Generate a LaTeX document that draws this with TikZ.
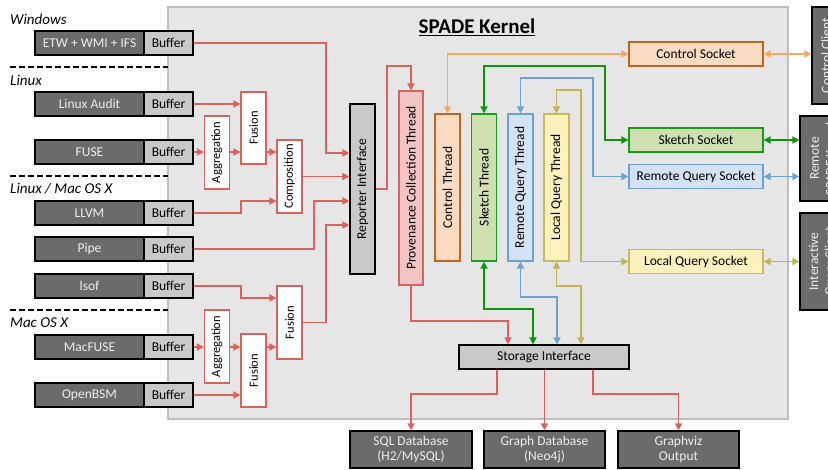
\documentclass[tikz,border=0pt]{standalone}
\usepackage{fontspec}
\setmainfont{Carlito}
\usepackage{graphicx}
\usetikzlibrary{arrows.meta,calc}
\definecolor{redc}{HTML}{D9625B}
\definecolor{redfill}{HTML}{F2C5C4}
\definecolor{orgline}{HTML}{C0651F}
\definecolor{orgfill}{HTML}{FBDCC3}
\definecolor{orgarr}{HTML}{F9A85A}
\definecolor{grnline}{HTML}{1B9B1B}
\definecolor{grnfill}{HTML}{D0DFB0}
\definecolor{grnarr}{HTML}{0E950E}
\definecolor{bluline}{HTML}{6E9FD6}
\definecolor{blufill}{HTML}{D3E2F5}
\definecolor{yelline}{HTML}{C7B95C}
\definecolor{yelfill}{HTML}{FDF1BE}
\definecolor{yelarr}{HTML}{C2B456}
\definecolor{darkbox}{HTML}{6B6B6B}
\definecolor{lighttext}{HTML}{EEEEEE}
\definecolor{bufgray}{HTML}{C9C9C9}
\definecolor{kernfill}{HTML}{E6E6E6}
\definecolor{kernline}{HTML}{BEBEBE}
\tikzset{
  base/.style={draw, line width=1.2pt, inner sep=1pt, font=\fontsize{13.5}{15}\selectfont},
  src/.style={base, fill=darkbox, text=lighttext, minimum width=109pt, minimum height=24pt},
  buf/.style={base, fill=bufgray, minimum width=49pt, minimum height=24pt},
  redbox/.style={base, draw=redc, fill=white, minimum width=25pt, minimum height=73pt, font=\fontsize{12.5}{14}\selectfont},
  thread/.style={base, minimum width=25pt, minimum height=147pt},
  sock/.style={base, minimum width=134pt, minimum height=24pt},
  outbox/.style={base, fill=darkbox, text=lighttext, minimum width=121pt, minimum height=37pt, align=center},
  client/.style={base, fill=darkbox},
  clienttext/.style={rotate=90, align=center, text=lighttext, font=\fontsize{13.5}{16}\selectfont},
  oslabel/.style={anchor=west, inner sep=0pt, font=\fontsize{15}{17}\selectfont\itshape},
  tip/.style={-{Triangle[length=7pt,width=7pt]}},
  rc/.style={draw=redc, line width=1.7pt, tip},
  oc/.style={draw=orgarr, line width=1.7pt, {Triangle[length=7pt,width=7pt]}-{Triangle[length=7pt,width=7pt]}},
  gc/.style={draw=grnarr, line width=1.7pt, {Triangle[length=7pt,width=7pt]}-{Triangle[length=7pt,width=7pt]}},
  bc/.style={draw=bluline, line width=1.7pt, {Triangle[length=7pt,width=7pt]}-{Triangle[length=7pt,width=7pt]}},
  yc/.style={draw=yelarr, line width=1.7pt, {Triangle[length=7pt,width=7pt]}-{Triangle[length=7pt,width=7pt]}},
  sep/.style={line width=1.5pt, dash pattern=on 6pt off 3pt}
}
\begin{document}
\begin{tikzpicture}[x=1pt,y=-1pt]
\useasboundingbox (0,0) rectangle (828,470);
% kernel background
\draw[fill=kernfill, draw=kernline, line width=1.2pt] (168,7) rectangle (788,419);
\node[font=\fontsize{21}{23}\selectfont\bfseries] (title) at (477,27) {\underline{SPADE Kernel}};

% OS labels and separators
\node[oslabel] (lwin) at (10,19) {Windows};
\node[oslabel] (llin) at (10,80) {Linux};
\node[oslabel] (llm) at (10,189) {Linux / Mac OS X};
\node[oslabel] (lmac) at (10,323) {Mac OS X};
\draw[sep] (10,67) -- (168,67);
\draw[sep] (10,176) -- (168,176);
\draw[sep] (10,310) -- (168,310);

% sources
\node[src] (s1) at (89.5,43) {ETW + WMI + IFS};
\node[buf] (b1) at (168.5,43) {Buffer};
\node[src] (s2) at (89.5,104) {Linux Audit};
\node[buf] (b2) at (168.5,104) {Buffer};
\node[src] (s3) at (89.5,152) {FUSE};
\node[buf] (b3) at (168.5,152) {Buffer};
\node[src] (s4) at (89.5,213) {LLVM};
\node[buf] (b4) at (168.5,213) {Buffer};
\node[src] (s5) at (89.5,249) {Pipe};
\node[buf] (b5) at (168.5,249) {Buffer};
\node[src] (s6) at (89.5,286) {lsof};
\node[buf] (b6) at (168.5,286) {Buffer};
\node[src] (s7) at (89.5,347) {MacFUSE};
\node[buf] (b7) at (168.5,347) {Buffer};
\node[src] (s8) at (89.5,395) {OpenBSM};
\node[buf] (b8) at (168.5,395) {Buffer};

% filters
\node[redbox] (agg1) at (217,152.5) {\rotatebox{90}{Aggregation}};
\node[redbox, minimum height=72pt] (fus1) at (253.5,128) {\rotatebox{90}{Fusion}};
\node[redbox] (comp) at (289.5,176.5) {\rotatebox{90}{Composition}};
\node[redbox] (fus2) at (289.5,322.5) {\rotatebox{90}{Fusion}};
\node[redbox] (agg2) at (217,346.5) {\rotatebox{90}{Aggregation}};
\node[redbox] (fus3) at (253.5,370.5) {\rotatebox{90}{Fusion}};

% core
\node[base, fill=bufgray, minimum width=25pt, minimum height=170pt] (rep) at (362.5,189) {\rotatebox{90}{Reporter Interface}};
\node[base, draw=redc, fill=redfill, minimum width=24pt, minimum height=194pt] (prov) at (411,188) {\rotatebox{90}{Provenance Collection Thread}};
\node[thread, draw=orgline, fill=orgfill] (ctrl) at (447.5,187.5) {\rotatebox{90}{Control Thread}};
\node[thread, draw=grnline, fill=grnfill] (sketch) at (484,187.5) {\rotatebox{90}{Sketch Thread}};
\node[thread, draw=bluline, fill=blufill] (remote) at (520.5,187.5) {\rotatebox{90}{Remote Query Thread}};
\node[thread, draw=yelline, fill=yelfill] (local) at (556.5,187.5) {\rotatebox{90}{Local Query Thread}};

\node[sock, draw=orgline, fill=orgfill] (csock) at (696,54) {Control Socket};
\node[sock, draw=grnline, fill=grnfill] (ssock) at (696,140) {Sketch Socket};
\node[sock, draw=bluline, fill=blufill] (rsock) at (696,176.5) {Remote Query Socket};
\node[sock, draw=yelline, fill=yelfill] (lsock) at (696,261.5) {Local Query Socket};

\node[base, fill=bufgray, minimum width=170pt, minimum height=24pt] (storage) at (544,357) {Storage Interface};

% outputs
\node[outbox, minimum width=122pt] (sql) at (411,449.5) {SQL Database\\(H2/MySQL)};
\node[outbox] (graph) at (544.5,449.5) {Graph Database\\(Neo4j)};
\node[outbox] (gviz) at (678.5,449.5) {Graphviz\\Output};

% clients
\node[client, minimum width=28pt, minimum height=97pt] (cclient) at (826,55.5) {};
\node[clienttext] (cclientT) at (cclient.center) {Control Client};
\node[client, minimum width=45pt, minimum height=85pt] (rclient) at (822.5,158.5) {};
\node[clienttext] (rclientT) at (rclient.center) {Remote\\SPADE Kernel};
\node[client, minimum width=45pt, minimum height=97pt] (iclient) at (822.5,261.5) {};
\node[clienttext] (iclientT) at (iclient.center) {Interactive\\Query Client};

% red connectors (collection)
\draw[rc] (b1.east) -- (326,43) -- (326,153) -- (rep.west |- 0,153);
\draw[rc] (b2.east) -- (fus1.west |- b2.east);
\draw[rc] (b3.east) -- (agg1.west |- b3.east);
\draw[rc] (agg1.east |- b3.east) -- (fus1.west |- b3.east);
\draw[rc] (fus1.east |- b3.east) -- (comp.west |- b3.east);
\draw[rc] (b4.east) -- (241,213) -- (241,201) -- (comp.west |- 0,201);
\draw[rc] (comp.east) -- (rep.west |- comp.east);
\draw[rc] (b5.east) -- (314,249) -- (314,201) -- (rep.west |- 0,201);
\draw[rc] (b6.east) -- (241,286) -- (241,298) -- (fus2.west |- 0,298);
\draw[rc] (fus2.east) -- (326,322.5) -- (326,225) -- (rep.west |- 0,225);
\draw[rc] (b7.east) -- (agg2.west |- b7.east);
\draw[rc] (agg2.east |- b7.east) -- (fus3.west |- b7.east);
\draw[rc] (fus3.east |- b7.east) -- (fus2.west |- b7.east);
\draw[rc] (b8.east) -- (fus3.west |- b8.east);
\draw[rc] (rep.east) -- (387,189) -- (387,66) -- (411,66) -- (prov.north);

% thread to socket
\draw[oc] (ctrl.north) |- (csock.west);
\draw[gc] (sketch.north) |- (605,66) |- (ssock.west);
\draw[bc] (remote.north) |- (593,78) |- (rsock.west);
\draw[yc] (local.north) |- (581,90) |- (lsock.west);

% socket to client
\draw[oc] (csock.east) -- (cclient.west |- csock.east);
\draw[gc] (ssock.east) -- (rclient.west |- ssock.east);
\draw[bc] (rsock.east) -- (rclient.west |- rsock.east);
\draw[yc] (lsock.east) -- (iclient.west |- lsock.east);

% threads to storage
\draw[rc] (prov.south) |- (508,321) -- (storage.north -| 508,0);
\draw[gc] (sketch.south) |- (533,309) -- (storage.north -| 533,0);
\draw[bc] (remote.south) |- (557,297) -- (storage.north -| 557,0);
\draw[yc] (local.south) |- (581,286) -- (storage.north -| 581,0);

% storage to outputs
\draw[rc] (storage.south -| 497,0) |- (411,394) -- (sql.north);
\draw[rc] (storage.south -| graph.north) -- (graph.north);
\draw[rc] (storage.south -| 593,0) |- (678.5,394) -- (gviz.north);
\end{tikzpicture}
\end{document}
